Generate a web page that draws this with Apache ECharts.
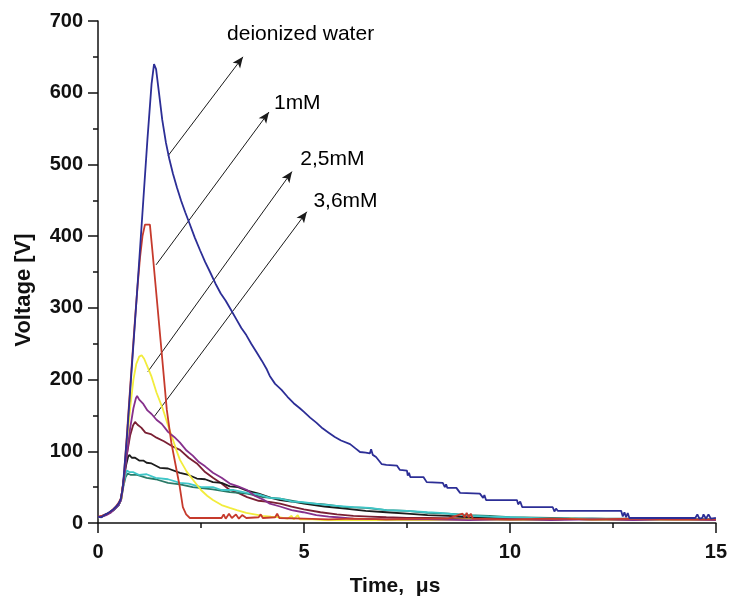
<!DOCTYPE html>
<html>
<head>
<meta charset="utf-8">
<script src="https://cdn.jsdelivr.net/npm/echarts@6/dist/echarts.min.js"></script>
<style>
html,body{margin:0;padding:0;background:#fff;}
#chart{width:730px;height:603px;}
</style>
</head>
<body>
<div id="chart"></div>
<script>
// ---- Data (time in µs, voltage in V) ----
const deionizedWater = [[0,9],[0.08,8],[0.15,11],[0.22,13],[0.3,16],[0.37,19],[0.44,23],[0.5,27],[0.55,33],[0.6,48],[0.7,118],[0.8,200],[0.9,282],[1.0,365],[1.1,450],[1.2,535],[1.3,612],[1.36,640],[1.41,633],[1.48,600],[1.56,562],[1.65,530],[1.73,508],[1.82,487],[1.92,467],[2.02,449],[2.12,433],[2.22,418],[2.35,398],[2.48,380],[2.6,364],[2.72,350],[2.85,334],[2.98,320],[3.1,310],[3.22,298],[3.35,285],[3.48,272],[3.6,262],[3.72,250],[3.85,238],[3.98,226],[4.1,214],[4.17,205],[4.3,194],[4.45,186],[4.6,176],[4.75,167],[4.9,160],[5.0,155],[5.15,147],[5.3,140],[5.45,132],[5.6,126],[5.75,120],[5.9,115],[6.12,110],[6.25,104],[6.36,99],[6.5,98],[6.6,97],[6.63,103],[6.67,95],[6.75,92],[6.89,82],[7.0,81],[7.26,80],[7.33,74],[7.5,73],[7.52,66],[7.55,70],[7.58,64],[7.9,64],[7.98,57],[8.37,56],[8.42,50],[8.45,54],[8.48,49],[8.7,49],[8.79,42],[9.27,41],[9.35,35],[9.38,39],[9.42,32],[10.17,32],[10.2,26],[10.25,30],[10.3,22],[11.04,22],[11.08,16],[11.12,20],[11.16,17],[12.7,17],[12.74,9],[12.78,15],[12.82,8],[12.86,14],[12.9,7],[14.5,7],[14.55,12],[14.6,6],[14.67,7],[14.7,12],[14.76,6],[14.82,12],[14.88,6],[15,7]];

const mM1 = [[0,9],[0.1,10],[0.18,12],[0.26,14],[0.34,18],[0.42,22],[0.5,28],[0.56,35],[0.62,58],[0.7,122],[0.8,205],[0.9,285],[0.96,330],[1.02,370],[1.08,400],[1.14,416],[1.26,416],[1.32,380],[1.43,311],[1.55,235],[1.67,158],[1.78,112],[1.9,76],[1.98,52],[2.06,22],[2.14,12],[2.23,7],[2.6,7],[3.0,7],[3.05,12],[3.1,6],[3.18,13],[3.25,7],[3.35,12],[3.42,6],[3.5,11],[3.6,7],[3.9,8],[3.95,12],[4.0,7],[4.3,8],[4.35,13],[4.4,7],[5.0,6],[5.6,5],[6.2,6],[7.0,5],[7.8,6],[8.5,6],[8.85,13],[8.9,8],[8.95,14],[9.0,8],[9.05,13],[9.1,6],[10,5],[11,6],[12,5],[13,6],[14,5],[15,5]];

const mM25 = [[0,8],[0.1,9],[0.2,12],[0.3,15],[0.4,20],[0.5,26],[0.57,34],[0.63,60],[0.7,110],[0.78,160],[0.86,200],[0.93,222],[1.0,232],[1.06,234],[1.12,229],[1.2,218],[1.3,204],[1.42,182],[1.58,158],[1.7,136],[1.82,116],[1.9,102],[1.99,88],[2.15,72],[2.31,60],[2.5,46],[2.65,38],[2.79,32],[3.0,25],[3.2,21],[3.37,18],[3.6,14],[3.8,12],[4.0,10],[4.2,9],[4.42,8],[4.6,6],[4.7,10],[4.75,5],[4.85,11],[4.9,5],[5.2,5],[5.5,4],[6,4],[7,4],[8,4],[9,5],[10,4],[11,4],[11.5,6],[12,4],[13,4],[14,4],[15,4]];

const mM36 = [[0,8],[0.1,9],[0.2,11],[0.3,14],[0.4,19],[0.5,25],[0.56,32],[0.62,55],[0.7,95],[0.78,132],[0.86,160],[0.92,174],[0.95,177],[1.0,172],[1.1,166],[1.2,157],[1.3,152],[1.42,144],[1.55,138],[1.7,127],[1.85,120],[1.99,112],[2.15,101],[2.3,94],[2.45,85],[2.6,79],[2.79,70],[3.0,63],[3.2,55],[3.4,51],[3.62,46],[3.8,38],[4.0,33],[4.17,27],[4.42,23],[4.7,18],[4.98,15],[5.3,11],[5.6,9],[5.8,8],[6.2,6],[7,5],[8,5],[9,4],[10,5],[11,4],[12,5],[13,4],[14,5],[15,4]];

const maroonTrace = [[0,8],[0.1,10],[0.2,12],[0.3,15],[0.4,19],[0.5,25],[0.56,33],[0.62,60],[0.7,95],[0.78,122],[0.85,136],[0.9,141],[0.96,137],[1.05,133],[1.15,126],[1.28,124],[1.42,119],[1.6,114],[1.8,107],[1.99,102],[2.2,91],[2.4,83],[2.6,71],[2.79,63],[3.0,55],[3.2,46],[3.4,42],[3.62,36],[3.9,31],[4.2,29],[4.42,27],[4.7,23],[5.0,19],[5.4,15],[5.8,12],[6.2,10],[6.6,9],[7,8],[7.5,7],[8,7],[9,6],[10,6],[11,5],[12,6],[13,5],[14,5],[15,5]];

const blackTrace = [[0,8],[0.1,9],[0.2,12],[0.3,15],[0.4,19],[0.5,25],[0.56,34],[0.62,58],[0.68,80],[0.73,92],[0.76,95],[0.82,91],[0.9,91],[1.0,87],[1.1,87],[1.18,84],[1.3,83],[1.5,77],[1.7,76],[1.99,70],[2.2,67],[2.4,62],[2.6,61],[2.79,57],[3.0,56],[3.2,51],[3.4,50],[3.62,45],[3.9,41],[4.2,35],[4.42,32],[4.7,30],[5.0,27],[5.5,23],[6,20],[6.5,17],[7,15],[7.5,13],[8,11],[8.5,10],[9,8],[9.5,7],[10,6],[11,6],[12,5],[13,5],[14,5],[15,5]];

const cyanTrace = [[0,8],[0.1,9],[0.2,12],[0.3,15],[0.4,19],[0.5,25],[0.56,33],[0.62,55],[0.67,68],[0.7,73],[0.76,71],[0.85,71],[1.0,67],[1.18,68],[1.4,63],[1.7,61],[1.99,56],[2.2,55],[2.5,50],[2.79,50],[3.0,46],[3.3,46],[3.62,42],[3.9,40],[4.17,35],[4.42,34],[4.7,30],[4.98,29],[5.4,26],[5.8,24],[6.2,22],[6.6,21],[7.0,18],[7.5,17],[8.0,15],[8.3,14],[8.7,12],[9.1,10],[9.5,9],[10,8],[10.5,7],[11,6],[12,6],[13,5],[14,6],[15,5]];

const tealTrace = [[0,8],[0.1,9],[0.2,12],[0.3,15],[0.4,19],[0.5,25],[0.56,32],[0.62,52],[0.67,64],[0.72,69],[0.8,67],[0.95,67],[1.18,63],[1.4,61],[1.7,56],[1.99,54],[2.3,50],[2.79,47],[3.2,43],[3.62,41],[4.0,36],[4.42,34],[5.0,28],[5.5,26],[6.0,22],[6.5,21],[7.0,18],[7.5,17],[8.0,14],[8.5,13],[9.0,11],[9.5,10],[10,8],[11,7],[12,6],[13,6],[14,5],[15,5]];

// Annotations (data coordinates)
const annotationTexts = ['deionized water', '1mM', '2,5mM', '3,6mM'];
const annotationT = [4.93, 4.85, 5.70, 6.02];
const annotationV = [681, 584, 506, 448];
const arrowStartT = [1.70, 1.41, 1.21, 1.36];
const arrowStartV = [512, 360, 211, 148];
const arrowEndT = [3.52, 4.15, 4.71, 5.07];
const arrowEndV = [650, 573, 490, 434];

// Axis ticks
const xMin = 0, xMax = 15, xStep = 5;
const yMin = 0, yMax = 700, yStep = 100;

// ---- Chart ----
const FONT = '"Liberation Sans", Arial, Helvetica, sans-serif';
const chart = echarts.init(document.getElementById('chart'), null, {renderer: 'canvas'});

const traces = [
  {data: maroonTrace, color: '#7a1f33'},
  {data: blackTrace, color: '#1c1c1c'},
  {data: tealTrace, color: '#2a7a68'},
  {data: cyanTrace, color: '#3fc6c8'},
  {data: mM25, color: '#f2ec3c'},
  {data: mM36, color: '#86308c'},
  {data: mM1, color: '#c63a2c'},
  {data: deionizedWater, color: '#2c2e96'}
];
const traceNames = ['maroon', 'black', 'teal', 'cyan', '2,5mM', '3,6mM', '1mM', 'deionized water'];

const series = traces.map((t, i) => ({
  name: traceNames[i],
  type: 'line',
  data: t.data,
  showSymbol: false,
  symbol: 'none',
  lineStyle: {color: t.color, width: 1.8},
  itemStyle: {color: t.color},
  animation: false,
  z: 2 + i
}));

const arrowData = arrowStartT.map((_, i) => [
  {coord: [arrowStartT[i], arrowStartV[i]]},
  {coord: [arrowEndT[i], arrowEndV[i]]}
]);

series.push({
  name: 'arrows',
  type: 'line',
  data: [],
  animation: false,
  markLine: {
    silent: true,
    animation: false,
    symbol: ['none', 'arrow'],
    symbolSize: [7, 11],
    label: {show: false},
    lineStyle: {color: '#1a1a1a', width: 1, type: 'solid'},
    data: arrowData
  },
  z: 20
});

series.push({
  name: 'labels',
  type: 'scatter',
  symbol: 'circle',
  symbolSize: 1,
  itemStyle: {color: '#ffffff', opacity: 0},
  animation: false,
  silent: true,
  data: annotationTexts.map((s, i) => [annotationT[i], annotationV[i], s]),
  label: {
    show: true,
    position: [0, 0],
    align: 'center',
    verticalAlign: 'middle',
    formatter: p => p.value[2],
    color: '#000',
    opacity: 1,
    textBorderWidth: 0,
    fontSize: 21,
    fontFamily: FONT
  },
  z: 21
});

chart.setOption({
  backgroundColor: '#ffffff',
  animation: false,
  grid: {left: 98, right: 14, top: 21, bottom: 80, containLabel: false},
  xAxis: {
    type: 'value', min: xMin, max: xMax, interval: xStep,
    axisLine: {show: true, onZero: false, lineStyle: {color: '#111', width: 1.5}},
    axisTick: {show: true, inside: false, length: 10, lineStyle: {color: '#111', width: 1.5}},
    minorTick: {show: true, splitNumber: 2, length: 5, lineStyle: {color: '#111', width: 1.5}},
    splitLine: {show: false},
    axisLabel: {color: '#111', fontSize: 20, fontWeight: 'bold', fontFamily: FONT, margin: 19}
  },
  yAxis: {
    type: 'value', min: yMin, max: yMax, interval: yStep,
    axisLine: {show: true, onZero: false, lineStyle: {color: '#111', width: 1.5}},
    axisTick: {show: true, inside: false, length: 10, lineStyle: {color: '#111', width: 1.5}},
    minorTick: {show: true, splitNumber: 2, length: 5, lineStyle: {color: '#111', width: 1.5}},
    splitLine: {show: false},
    axisLabel: {color: '#111', fontSize: 20, fontWeight: 'bold', fontFamily: FONT, margin: 15}
  },
  graphic: [
    {
      type: 'text', x: 24, y: 290, rotation: Math.PI / 2,
      style: {text: 'Voltage [V]', fill: '#111', fontSize: 22, fontWeight: 'bold', fontFamily: FONT, align: 'center', verticalAlign: 'middle'}
    },
    {
      type: 'text', x: 395, y: 586,
      style: {text: 'Time,  μs', fill: '#111', fontSize: 21, fontWeight: 'bold', fontFamily: FONT, align: 'center', verticalAlign: 'middle'}
    }
  ],
  series: series
});
</script>
</body>
</html>
